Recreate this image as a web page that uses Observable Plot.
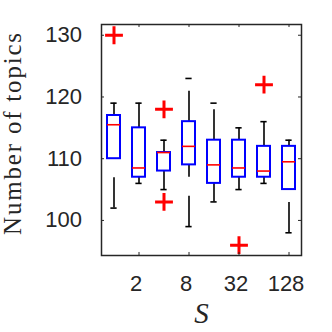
<!DOCTYPE html>
<html><head><meta charset="utf-8">
<script src="https://cdn.jsdelivr.net/npm/d3@7"></script>
<script src="https://cdn.jsdelivr.net/npm/@observablehq/plot@0.6"></script>
<style>html,body{margin:0;padding:0;background:#fff;}</style>
</head><body><div id="chart"></div>
<script>
// ---- data ----
const S            = [1, 2, 4, 8, 16, 32, 64, 128];
const upperWhisker = [119, 119, 113, 123, 119, 115, 116, 113];
const q3           = [117, 115, 111, 116, 113, 113, 112, 112];
const medians      = [115.5, 108.5, 111, 112, 109, 108.5, 108, 109.5];
const q1           = [110, 107, 108, 109, 106, 107, 107, 105];
const lowerWhisker = [102, 106, 105, 99, 103, 105, 106, 98];
const outlierS     = [1, 4, 4, 32, 64];
const outlierValue = [130, 118, 103, 96, 122];
const xTicks = [2, 8, 32, 128];
const yTicks = [100, 110, 120, 130];
const yLabel = "Number of topics";
const xLabel = "S";

// ---- tables built from the arrays ----
const boxes = S.map((s, i) => ({S: s, hi: upperWhisker[i], q3: q3[i], med: medians[i], q1: q1[i], lo: lowerWhisker[i]}));
const outliers = outlierS.map((s, i) => ({S: s, v: outlierValue[i]}));

const ink = "#262626";
const xDomain = [2 ** -0.5, 2 ** 7.5];
const yDomain = [94.32, 131.74];
const half = 2 ** 0.26, capHalf = 2 ** 0.125, tx = 2 ** 0.12, ty = 0.49;

const chart = Plot.plot({
  width: 332, height: 332,
  marginLeft: 101, marginRight: 31, marginTop: 24, marginBottom: 77,
  style: {fontFamily: "'Liberation Sans', Arial, Helvetica, sans-serif", fontSize: "22px", color: ink, background: "#fff"},
  x: {type: "log", base: 2, domain: xDomain, label: null},
  y: {domain: yDomain, label: null},
  marks: [
    // whiskers (dashed, MATLAB style)
    Plot.ruleX(boxes, {x: "S", y1: "q3", y2: "hi", stroke: "black", strokeWidth: 1.6, strokeDasharray: "30.4,19"}),
    Plot.ruleX(boxes, {x: "S", y1: "lo", y2: "q1", stroke: "black", strokeWidth: 1.6, strokeDasharray: "30.4,19"}),
    // whisker caps
    Plot.ruleY(boxes, {y: "hi", x1: d => d.S / capHalf, x2: d => d.S * capHalf, stroke: "black", strokeWidth: 1.6}),
    Plot.ruleY(boxes, {y: "lo", x1: d => d.S / capHalf, x2: d => d.S * capHalf, stroke: "black", strokeWidth: 1.6}),
    // boxes
    Plot.rect(boxes, {x1: d => d.S / half, x2: d => d.S * half, y1: "q1", y2: "q3", fill: "none", stroke: "#0000ff", strokeWidth: 2}),
    // medians
    Plot.ruleY(boxes, {y: "med", x1: d => d.S / half, x2: d => d.S * half, stroke: "#ff0000", strokeWidth: 1.6}),
    // outliers
    Plot.dot(outliers, {x: "S", y: "v", symbol: "plus", r: 5.8, stroke: "#ff0000", strokeWidth: 3}),
    // inward ticks on all four sides
    Plot.ruleY(yTicks, {y: d => d, x1: xDomain[0], x2: xDomain[0] * tx, stroke: ink, strokeWidth: 1}),
    Plot.ruleY(yTicks, {y: d => d, x1: xDomain[1] / tx, x2: xDomain[1], stroke: ink, strokeWidth: 1}),
    Plot.ruleX(xTicks, {x: d => d, y1: yDomain[0], y2: yDomain[0] + ty, stroke: ink, strokeWidth: 1}),
    Plot.ruleX(xTicks, {x: d => d, y1: yDomain[1] - ty, y2: yDomain[1], stroke: ink, strokeWidth: 1}),
    Plot.frame({stroke: ink, strokeWidth: 1.5}),
    // tick labels
    Plot.axisX(xTicks, {tickSize: 0, tickPadding: 20, tickFormat: d => String(d), dx: -3, label: null}),
    Plot.axisY(yTicks, {tickSize: 0, tickPadding: 19.5, label: null}),
    // axis titles
    Plot.text([yLabel], {text: d => d, frameAnchor: "left", rotate: -90, dx: -80.5, dy: -7, lineAnchor: "bottom", textAnchor: "middle",
      fontFamily: "'Liberation Serif', 'Times New Roman', serif", fontSize: 25, fill: ink}),
    Plot.text([xLabel], {text: d => d, frameAnchor: "bottom", dy: 67, lineAnchor: "bottom", textAnchor: "middle",
      fontFamily: "'Liberation Serif', 'Times New Roman', serif", fontStyle: "italic", fontSize: 29, fill: ink})
  ]
});
d3.select(chart).selectAll("text").filter(function () { return this.textContent === yLabel; })
  .style("letter-spacing", "1.8px");
document.getElementById("chart").appendChild(chart);
</script>
</body></html>
